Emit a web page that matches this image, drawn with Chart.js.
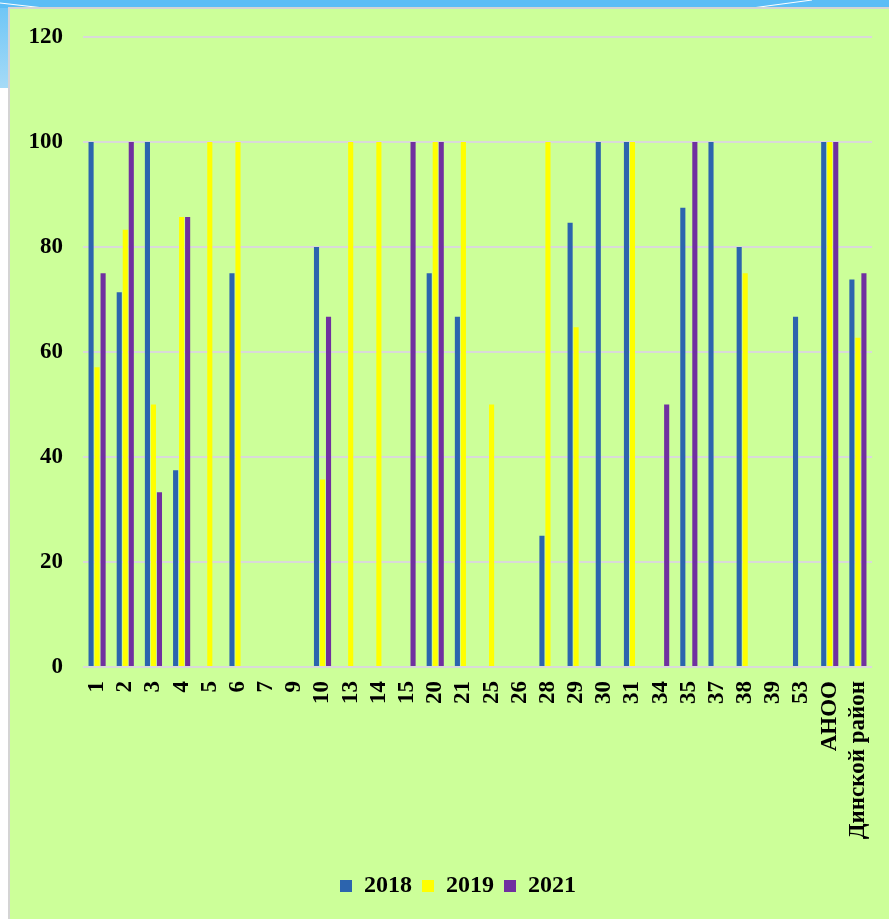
<!DOCTYPE html>
<html>
<head>
<meta charset="utf-8">
<script src="https://cdn.jsdelivr.net/npm/chart.js@4.4.1/dist/chart.umd.min.js"></script>
<style>
  html, body { margin: 0; padding: 0; background: #ffffff; }
  #wrap { width: 889px; height: 919px; position: relative; }
</style>
</head>
<body>
<div id="wrap"><canvas id="c" width="889" height="919"></canvas></div>
<script>
// School numbers plus the association and district totals
const categories = ['1', '2', '3', '4', '5', '6', '7', '9', '10', '13', '14', '15', '20', '21',
  '25', '26', '28', '29', '30', '31', '34', '35', '37', '38', '39', '53', 'АНОО', 'Динской район'];

const values2018 = [100, 71.4, 100, 37.5, 0, 75, 0, 0, 80, 0, 0, 0, 75, 66.7,
  0, 0, 25, 84.6, 100, 100, 0, 87.5, 100, 80, 0, 66.7, 100, 73.8];
const values2019 = [57.1, 83.3, 50, 85.7, 100, 100, 0, 0, 35.7, 100, 100, 0, 100, 100,
  50, 0, 100, 64.7, 0, 100, 0, 0, 0, 75, 0, 0, 100, 62.7];
const values2021 = [75, 100, 33.3, 85.7, 0, 0, 0, 0, 66.7, 0, 0, 100, 100, 0,
  0, 0, 0, 0, 0, 0, 50, 100, 0, 0, 0, 0, 100, 75];

const seriesNames = ['2018', '2019', '2021'];
const seriesColors = ['#2C64AE', '#FFFF00', '#7030A0'];
const yTicks = [0, 20, 40, 60, 80, 100, 120];

const serif = "'Liberation Serif', 'Times New Roman', serif";

// Slide-style backdrop: blue band on top, green panel with a thin grey edge
const backdrop = {
  id: 'backdrop',
  afterLayout(chart) {
    // nudge the centred legend row a little to the right
    const lg = chart.legend;
    if (lg) { lg.left += 18; lg.right += 18; }
  },
  beforeDraw(chart) {
    const ctx = chart.ctx;
    const W = chart.width, H = chart.height;
    ctx.save();
    ctx.fillStyle = '#ffffff';
    ctx.fillRect(0, 0, W, H);
    ctx.fillStyle = '#5BBDF6';
    ctx.fillRect(0, 0, W, 9);
    const g = ctx.createLinearGradient(0, 8, 0, 88);
    g.addColorStop(0, '#6FC6F6');
    g.addColorStop(1, '#A6DBF7');
    ctx.fillStyle = g;
    ctx.fillRect(0, 8, 9, 80);
    ctx.strokeStyle = '#ffffff';
    ctx.lineWidth = 1;
    ctx.beginPath();
    ctx.moveTo(0, 3); ctx.lineTo(44, 8);
    ctx.moveTo(752, 8); ctx.lineTo(812, 0);
    ctx.stroke();
    ctx.fillStyle = '#D4D4D4';
    ctx.fillRect(8, 7, W - 8, H - 7);
    ctx.fillStyle = '#CCFF99';
    ctx.fillRect(10, 9, W - 10, H - 9);
    ctx.restore();
  }
};

new Chart(document.getElementById('c'), {
  type: 'bar',
  data: {
    labels: categories,
    datasets: [values2018, values2019, values2021].map((vals, i) => ({
      label: seriesNames[i],
      data: vals,
      backgroundColor: seriesColors[i],
      borderWidth: 0,
      categoryPercentage: 0.64,
      barPercentage: 0.85
    }))
  },
  options: {
    responsive: false,
    animation: false,
    devicePixelRatio: 1,
    layout: { padding: { left: 8, right: 17, top: 37, bottom: 11 } },
    plugins: {
      legend: {
        position: 'bottom',
        labels: {
          font: { family: serif, size: 24, weight: 'bold' },
          color: '#000000',
          boxWidth: 12,
          boxHeight: 12,
          padding: 10
        }
      },
      tooltip: { enabled: false }
    },
    scales: {
      x: {
        grid: { display: false, drawTicks: false },
        border: { display: false },
        ticks: {
          autoSkip: false,
          maxRotation: 90,
          minRotation: 90,
          padding: 14,
          color: '#000000',
          font: { family: serif, size: 23, weight: 'bold' }
        },
        afterFit(scale) {
          scale.height = 197;
          scale.paddingLeft = 0;
          scale.paddingRight = 0;
        }
      },
      y: {
        min: 0,
        max: 120,
        afterBuildTicks(scale) { scale.ticks = yTicks.map(v => ({ value: v })); },
        grid: { color: '#D9D9D9', lineWidth: 2, drawTicks: false },
        border: { display: false },
        ticks: {
          padding: 20,
          color: '#000000',
          font: { family: serif, size: 23, weight: 'bold' }
        },
        afterFit(scale) { scale.width = 75; }
      }
    }
  },
  plugins: [backdrop]
});
</script>
</body>
</html>
